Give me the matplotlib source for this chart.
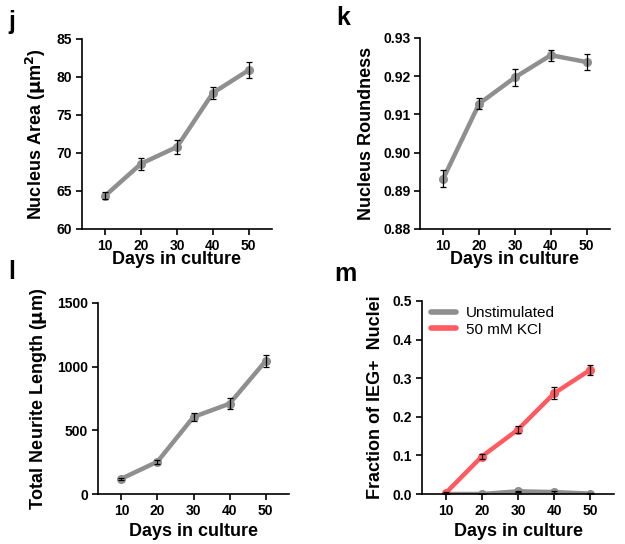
import matplotlib
matplotlib.use("Agg")
import matplotlib.pyplot as plt
import numpy as np

plt.rcParams["font.family"] = ["Liberation Sans", "DejaVu Sans"]

DAYS = [10, 20, 30, 40, 50]

AREA = [64.4, 68.6, 70.8, 77.9, 80.9]
AREA_ERR = [0.5, 0.8, 0.9, 0.8, 1.05]

ROUND = [0.8932, 0.9128, 0.9197, 0.9255, 0.9237]
ROUND_ERR = [0.0022, 0.0014, 0.0023, 0.0014, 0.002]

NEURITE = [120, 254, 605, 709, 1044]
NEURITE_ERR = [8, 16, 35, 45, 50]

IEG_UNSTIM = [0.0, 0.0, 0.007, 0.005, 0.001]
IEG_UNSTIM_ERR = [0.001, 0.001, 0.002, 0.002, 0.001]
IEG_KCL = [0.002, 0.097, 0.167, 0.261, 0.322]
IEG_KCL_ERR = [0.002, 0.006, 0.01, 0.016, 0.013]

GRAY = "#8f8f8f"
RED = "#ff5a60"

W, H = 625, 544


def make_axes(fig, left, right, top, bottom):
    return fig.add_axes([left / W, 1 - bottom / H, (right - left) / W, (bottom - top) / H])


def style(ax, yticks, ylim, ylabel, xlabelpad, ticklabels=None):
    ax.set_xlim(3.5, 56.5)
    ax.set_ylim(*ylim)
    ax.set_xticks(DAYS)
    ax.set_yticks(yticks)
    if ticklabels is not None:
        ax.set_yticklabels(ticklabels)
    for s in ["top", "right"]:
        ax.spines[s].set_visible(False)
    for s in ["left", "bottom"]:
        ax.spines[s].set_linewidth(1.2)
    ax.tick_params(direction="out", length=4.5, width=1.2, labelsize=10, pad=2.5)
    for lab in ax.get_xticklabels() + ax.get_yticklabels():
        lab.set_fontweight("bold")
    ax.set_xlabel("Days in culture", fontsize=13, fontweight="bold", labelpad=xlabelpad)
    ax.set_ylabel(ylabel, fontsize=13, fontweight="bold", labelpad=6)


def series(ax, y, err, color, label=None):
    ax.plot(DAYS, y, color=color, lw=3.2, marker="o", ms=5.5, zorder=2,
            solid_capstyle="round")
    ax.errorbar(DAYS, y, yerr=err, fmt="none", ecolor="black", elinewidth=0.9,
                capsize=2.5, capthick=0.9, zorder=3)
    if label:
        ax.plot([], [], color=color, lw=4, solid_capstyle="round", label=label)


fig = plt.figure(figsize=(W / 100, H / 100), dpi=100)

ax = make_axes(fig, 82, 272, 39, 229)
series(ax, AREA, AREA_ERR, GRAY)
style(ax, [60, 65, 70, 75, 80, 85], (60, 85), r"Nucleus Area ($\mathbf{\mu}$m$^\mathbf{2}$)", -1)

ax = make_axes(fig, 420, 610, 38, 229)
series(ax, ROUND, ROUND_ERR, GRAY)
style(ax, [0.88, 0.89, 0.90, 0.91, 0.92, 0.93], (0.88, 0.93), "Nucleus Roundness", -1,
      ["0.88", "0.89", "0.90", "0.91", "0.92", "0.93"])

ax = make_axes(fig, 98, 289, 303, 494)
series(ax, NEURITE, NEURITE_ERR, GRAY)
style(ax, [0, 500, 1000, 1500], (0, 1500), r"Total Neurite Length ($\mathbf{\mu}$m)", 4)

ax = make_axes(fig, 422, 614, 301, 494)
series(ax, IEG_UNSTIM, IEG_UNSTIM_ERR, GRAY, "Unstimulated")
series(ax, IEG_KCL, IEG_KCL_ERR, RED, "50 mM KCl")
style(ax, [0, 0.1, 0.2, 0.3, 0.4, 0.5], (0, 0.5), "Fraction of IEG+  Nuclei", 4,
      ["0.0", "0.1", "0.2", "0.3", "0.4", "0.5"])
ax.legend(loc="upper left", bbox_to_anchor=(0.0, 1.02), frameon=False, fontsize=11,
          handlelength=1.6, handletextpad=0.7, labelspacing=0.15, borderaxespad=0.2)

for txt, x, y in [("j", 12, 22), ("k", 343, 18), ("l", 12, 272), ("m", 345, 274)]:
    fig.text(x / W, 1 - y / H, txt, fontsize=18, fontweight="bold", va="center", ha="center")

fig.savefig("out.png", dpi=100)
